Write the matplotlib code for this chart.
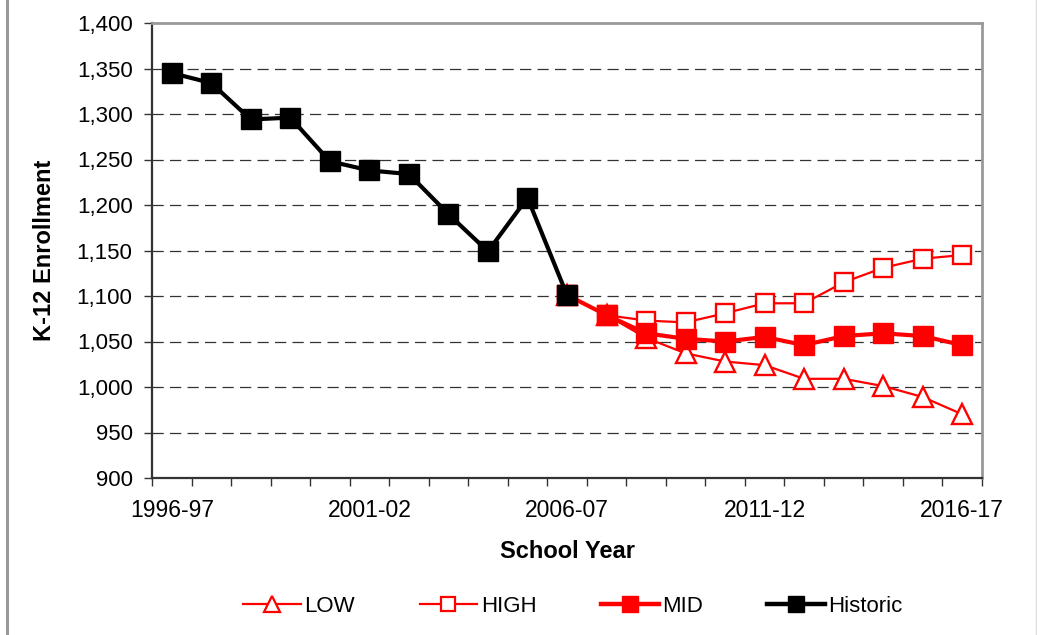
import matplotlib
matplotlib.use("Agg")
import matplotlib.pyplot as plt
from matplotlib.lines import Line2D
import numpy as np

plt.rcParams['font.family'] = ['Liberation Sans', 'DejaVu Sans']

years = ["1996-97", "1997-98", "1998-99", "1999-00", "2000-01", "2001-02", "2002-03",
         "2003-04", "2004-05", "2005-06", "2006-07", "2007-08", "2008-09", "2009-10",
         "2010-11", "2011-12", "2012-13", "2013-14", "2014-15", "2015-16", "2016-17"]

historic = [1345, 1334, 1294, 1296, 1248, 1238, 1234, 1190, 1149, 1208, 1101]
low = [1101, 1079, 1054, 1037, 1028, 1024, 1009, 1009, 1001, 989, 970]
high = [1101, 1079, 1073, 1071, 1081, 1092, 1092, 1115, 1131, 1141, 1145]
mid = [1101, 1079, 1059, 1053, 1050, 1055, 1046, 1056, 1059, 1056, 1046]

yticks = [900, 950, 1000, 1050, 1100, 1150, 1200, 1250, 1300, 1350, 1400]
xlabel_years = ["1996-97", "2001-02", "2006-07", "2011-12", "2016-17"]

W, H = 1037, 635
fig = plt.figure(figsize=(W / 100, H / 100), dpi=100)
ax = fig.add_axes([152 / W, 1 - 478 / H, (982 - 152) / W, (478 - 23) / H])

x_all = np.arange(len(years))
x_hist = x_all[:len(historic)]
x_proj = x_all[len(historic) - 1:]

red = '#ff0000'
ax.plot(x_proj, low, color=red, lw=1.6, marker='^', ms=14, mfc='white', mec=red, mew=1.7, zorder=3)
ax.plot(x_proj, high, color=red, lw=1.6, marker='s', ms=12.5, mfc='white', mec=red, mew=1.7, zorder=4)
ax.plot(x_proj, mid, color=red, lw=3, marker='s', ms=14, mfc=red, mec=red, zorder=5)
ax.plot(x_hist, historic, color='black', lw=3, marker='s', ms=14, mfc='black', mec='black', zorder=6)

ax.set_xlim(-0.5, len(years) - 0.5)
ax.set_ylim(900, 1400)
ax.set_yticks(yticks)
ax.set_yticklabels([f"{v:,}" for v in yticks])
for v in yticks[1:-1]:
    ax.axhline(v, color='#333333', lw=0.9, ls=(0, (9, 5)), zorder=1)

ax.set_xticks(np.arange(len(years) + 1) - 0.5, minor=False)
ax.set_xticklabels([])
ax.set_xticks([years.index(y) for y in xlabel_years], minor=True)
ax.set_xticklabels(xlabel_years, minor=True)
ax.tick_params(axis='x', which='major', direction='out', length=5.5, width=1, color='#333333')
ax.tick_params(axis='x', which='minor', length=0, pad=15, labelsize=16.5)
ax.tick_params(axis='y', direction='out', length=6, width=1, color='#333333', pad=8, labelsize=16)

for s in ['left', 'bottom']:
    ax.spines[s].set_color('#333333')
    ax.spines[s].set_linewidth(1.6)
for s in ['top', 'right']:
    ax.spines[s].set_color('#999999')
    ax.spines[s].set_linewidth(2)

ax.set_ylabel("K-12 Enrollment", fontsize=17, fontweight='bold', labelpad=15)
ax.set_xlabel("School Year", fontsize=17, fontweight='bold', labelpad=13)

handles = [
    Line2D([], [], color=red, lw=1.6, marker='^', ms=12, mfc='white', mec=red, mew=1.6),
    Line2D([], [], color=red, lw=1.6, marker='s', ms=10.5, mfc='white', mec=red, mew=1.6),
    Line2D([], [], color=red, lw=3.2, marker='s', ms=12, mfc=red, mec=red),
    Line2D([], [], color='black', lw=3.2, marker='s', ms=12, mfc='black', mec='black'),
]
fig.legend(handles, ["LOW", "HIGH", "MID", "Historic"], loc='center',
           bbox_to_anchor=(573 / W, 1 - 606 / H),
           ncol=4, frameon=False, fontsize=16, handlelength=2.6, handletextpad=0.15,
           columnspacing=2.9)

fig.add_artist(Line2D([7 / W, 7 / W], [0, 1], transform=fig.transFigure, color='#999999', lw=2.2))
fig.add_artist(Line2D([1036 / W, 1036 / W], [0, 1], transform=fig.transFigure, color='#dddddd', lw=1))

fig.savefig("out.png", dpi=100)
